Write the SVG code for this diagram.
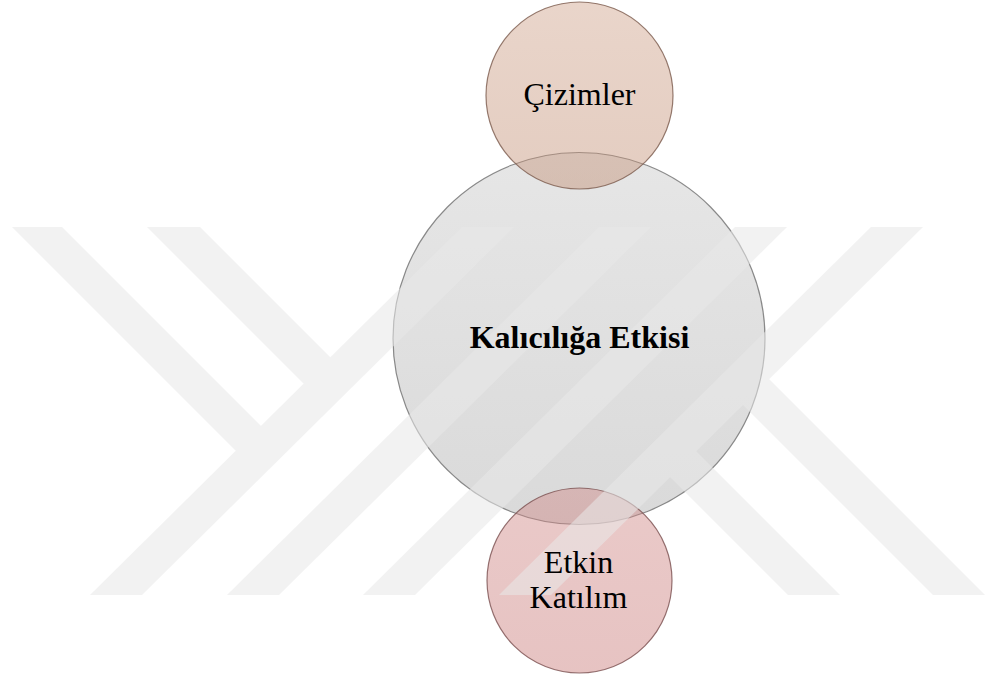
<svg xmlns="http://www.w3.org/2000/svg" width="985" height="679" viewBox="0 0 985 679">
<defs>
<linearGradient id="gMid" x1="0" y1="0" x2="0" y2="1">
<stop offset="0" stop-color="#c8c8c8"/>
<stop offset="1" stop-color="#acacac"/>
</linearGradient>
<linearGradient id="gTop" x1="0" y1="0" x2="0" y2="1">
<stop offset="0" stop-color="#cfa28a"/>
<stop offset="1" stop-color="#c28f74"/>
</linearGradient>
<linearGradient id="gBot" x1="0" y1="0" x2="0" y2="1">
<stop offset="0" stop-color="#d08886"/>
<stop offset="1" stop-color="#c97a78"/>
</linearGradient>
</defs>
<style>
.c { stroke-width: 1.2; }
.lbl { font-size: 32px; fill: #000; text-anchor: middle; }
.b { font-weight: bold; }
</style>
<rect width="985" height="679" fill="#ffffff"/>
<g id="mid">
<circle class="c" cx="579" cy="338.5" r="186" fill="url(#gMid)" fill-opacity="0.45" stroke="#6f6f6f" stroke-opacity="0.8"/>
</g>
<g id="top">
<circle class="c" cx="579.5" cy="95.5" r="93.5" fill="url(#gTop)" fill-opacity="0.45" stroke="#7a5a4c" stroke-opacity="0.8"/>
</g>
<g id="bottom">
<circle class="c" cx="579.5" cy="580.5" r="92.5" fill="url(#gBot)" fill-opacity="0.45" stroke="#7a5050" stroke-opacity="0.8"/>
</g>
<g id="watermark" fill="#e9e9e9" opacity="0.55">
<polygon points="90,595 142,595 514,227 462,227"/>
<polygon points="227,595 279,595 651,227 599,227"/>
<polygon points="363,595 415,595 787,227 735,227"/>
<polygon points="499,595 551,595 923,227 871,227"/>
<polygon points="12,227 62,227 274,439 249,464"/>
<polygon points="147,227 200,227 343,370 317,397"/>
<polygon points="788,595 840,595 683,438 657,464"/>
<polygon points="933,595 985,595 756,366 730,392"/>
</g>
<g id="connectors"></g>
<g id="labels" font-family="'Liberation Serif', Tinos, 'Times New Roman', 'DejaVu Serif', serif">
<text class="lbl" x="579.5" y="105" font-family="'Liberation Serif', Tinos, 'Times New Roman', 'DejaVu Serif', serif">Çizimler</text>
<text class="lbl b" x="579.5" y="348" font-family="'Liberation Serif', Tinos, 'Times New Roman', 'DejaVu Serif', serif">Kalıcılığa Etkisi</text>
<text class="lbl" x="578.5" y="573" font-family="'Liberation Serif', Tinos, 'Times New Roman', 'DejaVu Serif', serif">Etkin</text>
<text class="lbl" x="578.5" y="608" font-family="'Liberation Serif', Tinos, 'Times New Roman', 'DejaVu Serif', serif">Katılım</text>
</g>
</svg>
